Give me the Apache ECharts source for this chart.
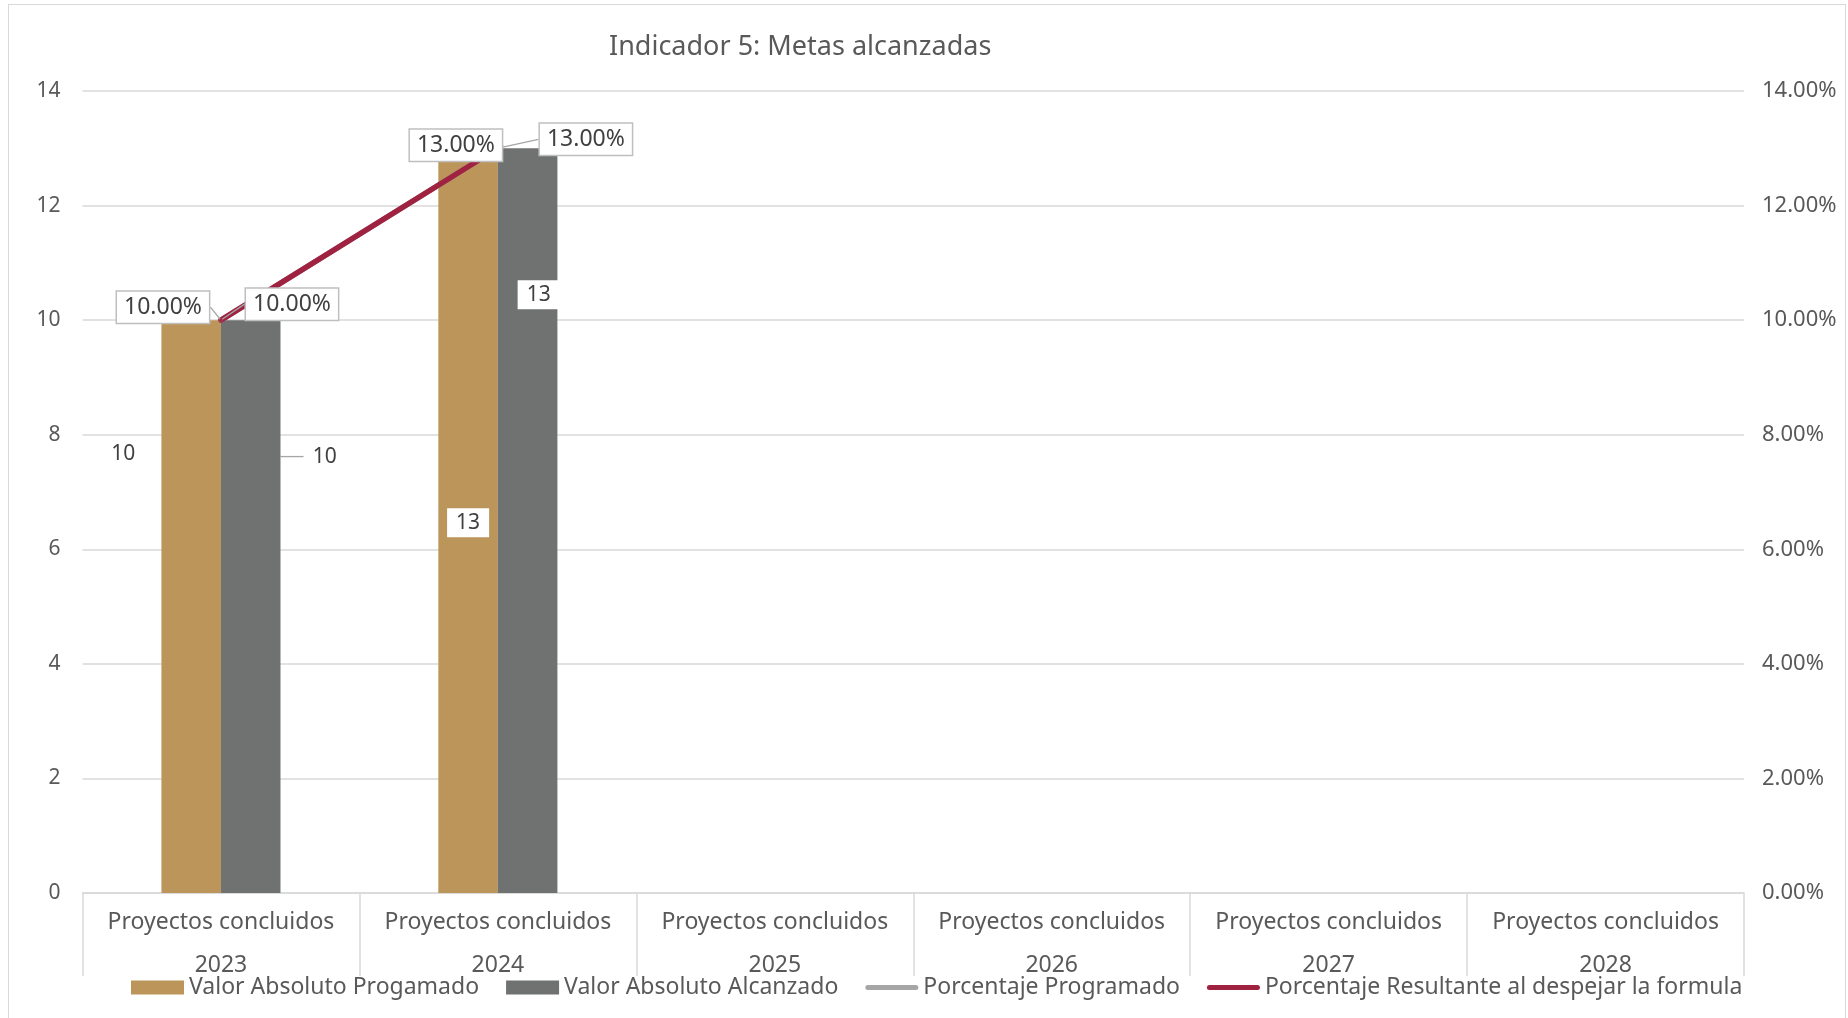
<!DOCTYPE html>
<html>
<head>
<meta charset="utf-8">
<script src="https://cdn.jsdelivr.net/npm/echarts@6/dist/echarts.min.js"></script>
<style>
html,body{margin:0;padding:0;background:#fff;overflow:hidden;}
#c{position:absolute;left:0;top:0;width:1848px;height:1018px;}
#b{position:absolute;left:8px;top:4px;width:1836px;height:1030px;border:1.5px solid #d9d9d9;pointer-events:none;}
</style>
</head>
<body>
<div id="c"></div>
<div id="b"></div>
<script>
// ---- data ----
const titleText = 'Indicador 5: Metas alcanzadas';
const categoryNames = ['Proyectos concluidos','Proyectos concluidos','Proyectos concluidos','Proyectos concluidos','Proyectos concluidos','Proyectos concluidos'];
const years = ['2023','2024','2025','2026','2027','2028'];
const valorProgramado = [10, 13, null, null, null, null];
const valorAlcanzado = [10, 13, null, null, null, null];
const porcentajeProgramado = [0.10, 0.13, null, null, null, null];
const porcentajeResultante = [0.10, 0.13, null, null, null, null];
const seriesNames = ['Valor Absoluto Progamado','Valor Absoluto Alcanzado','Porcentaje Programado','Porcentaje Resultante al despejar la formula'];

// ---- label nudges (layout only) ----
const nudgeProg = [{dx:-68, dy:-153}, {dx:0, dy:2}];
const nudgeAlc = [{dx:74, dy:-150}, {dx:11, dy:-226}];
const nudgePctProg = [{dx:-58, dy:-13}, {dx:-42, dy:-3}];
const nudgePctRes = [{dx:71, dy:-16}, {dx:88, dy:-9}];

const FONT = 'Noto Sans';
const TXT = '#595959';
const pctFmt = p => (p.value * 100).toFixed(2) + '%';

const barLabel = {
  show: true, position: 'inside', fontFamily: FONT, fontSize: 21, color: '#404040',
  backgroundColor: '#fff', padding: [5, 9, 3, 9]
};
const pctLabel = {
  show: true, position: 'inside', formatter: pctFmt, fontFamily: FONT, fontSize: 23, color: '#404040',
  backgroundColor: '#fff', borderColor: '#bfbfbf', borderWidth: 1.5, padding: [5, 7, 3, 7]
};
const guide = { show: true, lineStyle: { color: '#a6a6a6', width: 1.3 } };
const layoutFrom = arr => (p => arr[p.dataIndex] || {});

const chart = echarts.init(document.getElementById('c'));
chart.setOption({
  backgroundColor: '#fff',
  animation: false,
  textStyle: { fontFamily: FONT },
  title: {
    text: titleText, left: 604, top: 29,
    textStyle: { fontFamily: FONT, fontSize: 27, fontWeight: 'normal', color: TXT }
  },
  legend: {
    left: 126, top: 971, itemGap: 27, itemWidth: 53, itemHeight: 14,
    textStyle: { fontFamily: FONT, fontSize: 23, color: TXT, padding: [0, 0, 0, 0] },
    data: [
      { name: seriesNames[0], icon: 'rect' },
      { name: seriesNames[1], icon: 'rect' },
      { name: seriesNames[2], icon: 'path://M2.5,0H50.5A2.5,2.5,0,0,1,50.5,5H2.5A2.5,2.5,0,0,1,2.5,0Z' },
      { name: seriesNames[3], icon: 'path://M2.5,0H50.5A2.5,2.5,0,0,1,50.5,5H2.5A2.5,2.5,0,0,1,2.5,0Z' }
    ]
  },
  grid: { left: 82.5, right: 104, top: 91, bottom: 125, containLabel: false },
  xAxis: {
    type: 'category', data: years,
    axisLine: { lineStyle: { color: '#d9d9d9', width: 1.5 } },
    axisTick: { show: true, interval: 0, length: 83, lineStyle: { color: '#d9d9d9', width: 1.5 } },
    axisLabel: {
      interval: 0, margin: 8, lineHeight: 43, fontFamily: FONT, fontSize: 23, color: TXT,
      formatter: (v, i) => categoryNames[i] + '\n' + v
    }
  },
  yAxis: [
    {
      type: 'value', min: 0, max: 14, interval: 2,
      axisLine: { show: false }, axisTick: { show: false },
      splitLine: { lineStyle: { color: '#d9d9d9', width: 1.5 } },
      axisLabel: { margin: 22, fontFamily: FONT, fontSize: 21, color: TXT }
    },
    {
      type: 'value', min: 0, max: 0.14, interval: 0.02,
      axisLine: { show: false }, axisTick: { show: false }, splitLine: { show: false },
      axisLabel: { margin: 18, fontFamily: FONT, fontSize: 22, color: TXT, formatter: v => (v * 100).toFixed(2) + '%' }
    }
  ],
  series: [
    {
      name: seriesNames[0], type: 'bar', data: valorProgramado, barGap: '0%', barCategoryGap: '57%',
      itemStyle: { color: '#bc955a' }, label: barLabel, labelLine: { show: false },
      labelLayout: layoutFrom(nudgeProg)
    },
    {
      name: seriesNames[1], type: 'bar', data: valorAlcanzado,
      itemStyle: { color: '#6f7271' }, label: barLabel, labelLine: guide,
      labelLayout: layoutFrom(nudgeAlc)
    },
    {
      name: seriesNames[2], type: 'line', yAxisIndex: 1, data: porcentajeProgramado,
      symbol: 'circle', symbolSize: 3, lineStyle: { color: '#a6a6a6', width: 5.5, cap: 'round' },
      itemStyle: { color: '#a6a6a6' }, label: pctLabel, labelLine: guide,
      labelLayout: layoutFrom(nudgePctProg)
    },
    {
      name: seriesNames[3], type: 'line', yAxisIndex: 1, data: porcentajeResultante,
      symbol: 'circle', symbolSize: 3, lineStyle: { color: '#9f2241', width: 5.5, cap: 'round' },
      itemStyle: { color: '#9f2241' }, label: pctLabel, labelLine: guide,
      labelLayout: layoutFrom(nudgePctRes)
    }
  ]
});
</script>
</body>
</html>
